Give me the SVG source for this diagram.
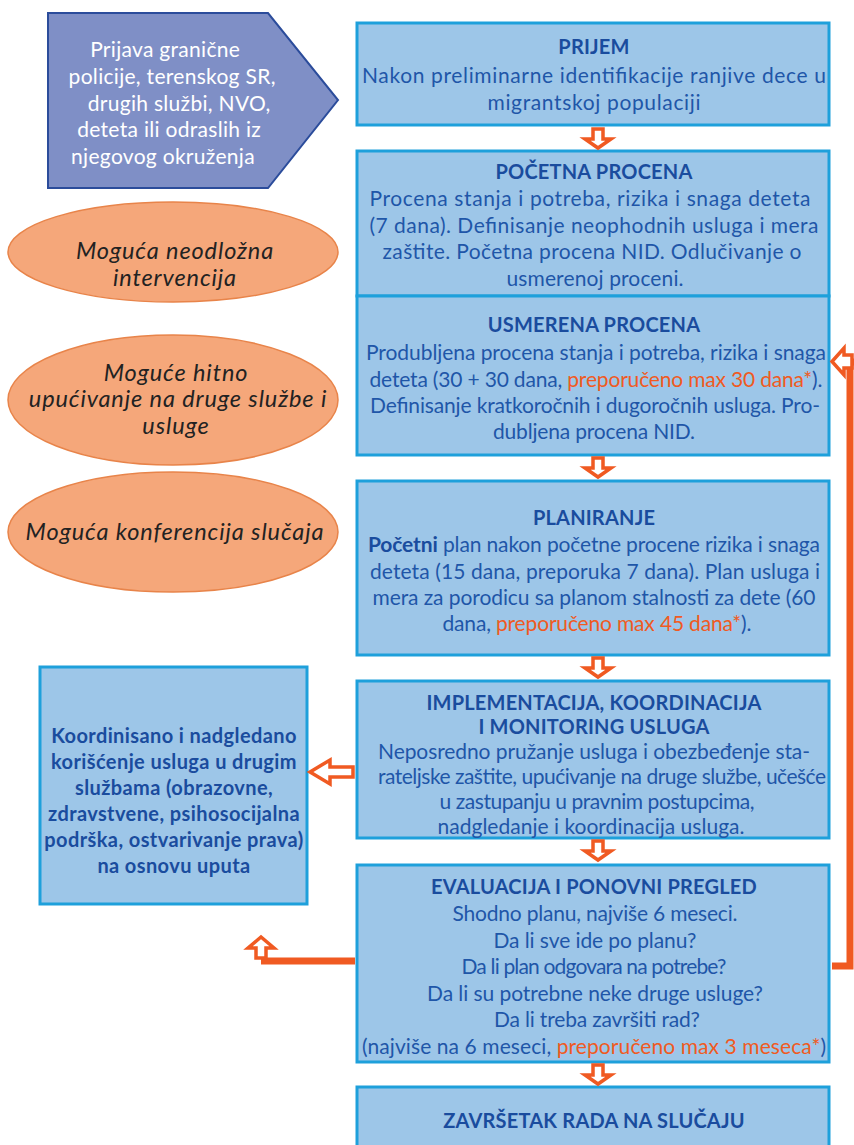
<svg xmlns="http://www.w3.org/2000/svg" width="854" height="1145" viewBox="0 0 854 1145">
<style>
.box{fill:#9dc6e8;stroke:#1ea0db;stroke-width:3}
.t{font-family:Lato,"Liberation Sans",sans-serif;font-size:21px;fill:#1f56a8;text-anchor:middle}
.b{font-family:Lato,"Liberation Sans",sans-serif;font-weight:bold;font-size:20px;letter-spacing:0.2px;fill:#1a4c9e;text-anchor:middle}
.lb{font-family:Lato,"Liberation Sans",sans-serif;font-weight:bold;font-size:20px;letter-spacing:0.4px;fill:#1a4c9e;text-anchor:middle}
.bi{font-weight:bold;fill:#1a4c9e}
.o{fill:#f05a22}
.e{fill:#f5a77a;stroke:#e8844a;stroke-width:1.5}
.et{font-family:Lato,"Liberation Sans",sans-serif;font-size:23.5px;letter-spacing:0.9px;font-style:italic;fill:#222;text-anchor:middle}
.arr{fill:#fff;stroke:#f05a22;stroke-width:3.5;stroke-linejoin:miter}
.ln{fill:none;stroke:#f05a22;stroke-width:7}
</style>
<g id="source">
<polygon points="48,13 268,13 338,100 268,188 48,188" fill="#7f8fc6" stroke="#2b4c9b" stroke-width="2"/>
<text font-family="Lato,'Liberation Sans',sans-serif" font-size="21" letter-spacing="0.3" fill="#fff" text-anchor="middle">
<tspan x="168" y="57">Prijava granične</tspan>
<tspan x="175" y="84">policije, terenskog SR,</tspan>
<tspan x="182" y="111">drugih službi, NVO,</tspan>
<tspan x="172" y="137">deteta ili odraslih iz</tspan>
<tspan x="163" y="164">njegovog okruženja</tspan>
</text>
</g>
<g id="e1"><ellipse class="e" cx="173" cy="252" rx="165" ry="50"/>
<text class="et"><tspan x="175" y="259">Moguća neodložna</tspan><tspan x="175" y="286">intervencija</tspan></text></g>
<g id="e2"><ellipse class="e" cx="173" cy="400" rx="165" ry="65"/>
<text class="et"><tspan x="176" y="381">Moguće hitno</tspan><tspan x="178" y="407">upućivanje na druge službe i</tspan><tspan x="176" y="434">usluge</tspan></text></g>
<g id="e3"><ellipse class="e" cx="173" cy="532" rx="165" ry="60"/>
<text class="et"><tspan x="175" y="540">Moguća konferencija slučaja</tspan></text></g>

<g id="prijem"><rect class="box" x="357" y="23" width="472" height="102"/>
<text class="b" x="594" y="54">PRIJEM</text>
<text class="t" x="594" y="83" textLength="464" lengthAdjust="spacing">Nakon preliminarne identifikacije ranjive dece u</text>
<text class="t" x="594" y="110" textLength="213" lengthAdjust="spacing">migrantskoj populaciji</text></g>

<g id="pocetna"><rect class="box" x="357" y="151" width="472" height="145"/>
<text class="b" x="594" y="179">POČETNA PROCENA</text>
<text class="t" x="590" y="206" textLength="441" lengthAdjust="spacing">Procena stanja i potreba, rizika i snaga deteta</text>
<text class="t" x="594" y="233" textLength="449" lengthAdjust="spacing">(7 dana). Definisanje neophodnih usluga i mera</text>
<text class="t" x="592" y="259" textLength="419" lengthAdjust="spacing">zaštite. Početna procena NID. Odlučivanje o</text>
<text class="t" x="595" y="286" textLength="177" lengthAdjust="spacing">usmerenoj proceni.</text></g>

<g id="usmerena"><rect class="box" x="357" y="296" width="472" height="159"/>
<text class="b" x="594" y="332">USMERENA PROCENA</text>
<text class="t" x="596" y="360" textLength="460" lengthAdjust="spacing">Produbljena procena stanja i potreba, rizika i snaga</text>
<text class="t" x="596" y="387" textLength="453" lengthAdjust="spacing">deteta (30 + 30 dana, <tspan class="o">preporučeno max 30 dana*</tspan>).</text>
<text class="t" x="595" y="413" textLength="450" lengthAdjust="spacing">Definisanje kratkoročnih i dugoročnih usluga. Pro-</text>
<text class="t" x="594" y="439" textLength="202" lengthAdjust="spacing">dubljena procena NID.</text></g>

<g id="planiranje"><rect class="box" x="357" y="481" width="472" height="174"/>
<text class="b" x="594" y="525">PLANIRANJE</text>
<text class="t" x="594" y="552" textLength="452" lengthAdjust="spacing"><tspan class="bi">Početni</tspan> plan nakon početne procene rizika i snaga</text>
<text class="t" x="595" y="579" textLength="450" lengthAdjust="spacing">deteta (15 dana, preporuka 7 dana). Plan usluga i</text>
<text class="t" x="594" y="605" textLength="443" lengthAdjust="spacing">mera za porodicu sa planom stalnosti za dete (60</text>
<text class="t" x="597" y="631" textLength="309" lengthAdjust="spacing">dana, <tspan class="o">preporučeno max 45 dana*</tspan>).</text></g>

<g id="implementacija"><rect class="box" x="357" y="681" width="472" height="157"/>
<text class="b" x="594" y="710">IMPLEMENTACIJA, KOORDINACIJA</text>
<text class="b" x="594" y="734">I MONITORING USLUGA</text>
<text class="t" x="594" y="759" textLength="432" lengthAdjust="spacing">Neposredno pružanje usluga i obezbeđenje sta-</text>
<text class="t" x="602" y="784" textLength="448" lengthAdjust="spacing">rateljske zaštite, upućivanje na druge službe, učešće</text>
<text class="t" x="597" y="809" textLength="315" lengthAdjust="spacing">u zastupanju u pravnim postupcima,</text>
<text class="t" x="591" y="834" textLength="307" lengthAdjust="spacing">nadgledanje i koordinacija usluga.</text></g>

<g id="evaluacija"><rect class="box" x="357" y="865" width="472" height="197"/>
<text class="b" x="594" y="894">EVALUACIJA I PONOVNI PREGLED</text>
<text class="t" x="595" y="921" textLength="285" lengthAdjust="spacing">Shodno planu, najviše 6 meseci.</text>
<text class="t" x="595" y="948" textLength="203" lengthAdjust="spacing">Da li sve ide po planu?</text>
<text class="t" x="594" y="974" textLength="265" lengthAdjust="spacing">Da li plan odgovara na potrebe?</text>
<text class="t" x="595" y="1001" textLength="336" lengthAdjust="spacing">Da li su potrebne neke druge usluge?</text>
<text class="t" x="597" y="1027" textLength="206" lengthAdjust="spacing">Da li treba završiti rad?</text>
<text class="t" x="594" y="1054" textLength="464" lengthAdjust="spacing">(najviše na 6 meseci, <tspan class="o">preporučeno max 3 meseca*</tspan>)</text></g>

<g id="zavrsetak"><rect class="box" x="357" y="1087" width="472" height="70"/>
<text class="b" x="594" y="1128">ZAVRŠETAK RADA NA SLUČAJU</text></g>

<g id="koordinisano"><rect class="box" x="40" y="667" width="267" height="237"/>
<text class="lb"><tspan x="174" y="743">Koordinisano i nadgledano</tspan><tspan x="174" y="769">korišćenje usluga u drugim</tspan><tspan x="174" y="795">službama (obrazovne,</tspan><tspan x="174" y="821">zdravstvene, psihosocijalna</tspan><tspan x="174" y="847">podrška, ostvarivanje prava)</tspan><tspan x="174" y="873">na osnovu uputa</tspan></text></g>

<g id="connectors">
<polygon class="arr" points="593,129 603,129 603,139 611,139 598,148 585,139 593,139"/>
<polygon class="arr" points="593,458 603,458 603,468 611,468 598,477 585,468 593,468"/>
<polygon class="arr" points="593,658 603,658 603,668 611,668 598,677 585,668 593,668"/>
<polygon class="arr" points="593,841 603,841 603,851 611,851 598,860 585,851 593,851"/>
<polygon class="arr" points="593,1065 603,1065 603,1075 611,1075 598,1084 585,1075 593,1075"/>
<polygon class="arr" points="353,767 353,777 330,777 330,784 310,772 330,760 330,767"/>
<polyline class="ln" points="832,966 850,966 850,362 856,362"/>
<polygon class="arr" points="852,355 852,368 844,368 844,375 832,361.5 844,348 844,355"/>
<polyline class="ln" points="355,961 261,961"/>
<polygon class="arr" points="256,958 256,948 248,948 261,937 274,948 266,948 266,958"/>
</g>
</svg>
